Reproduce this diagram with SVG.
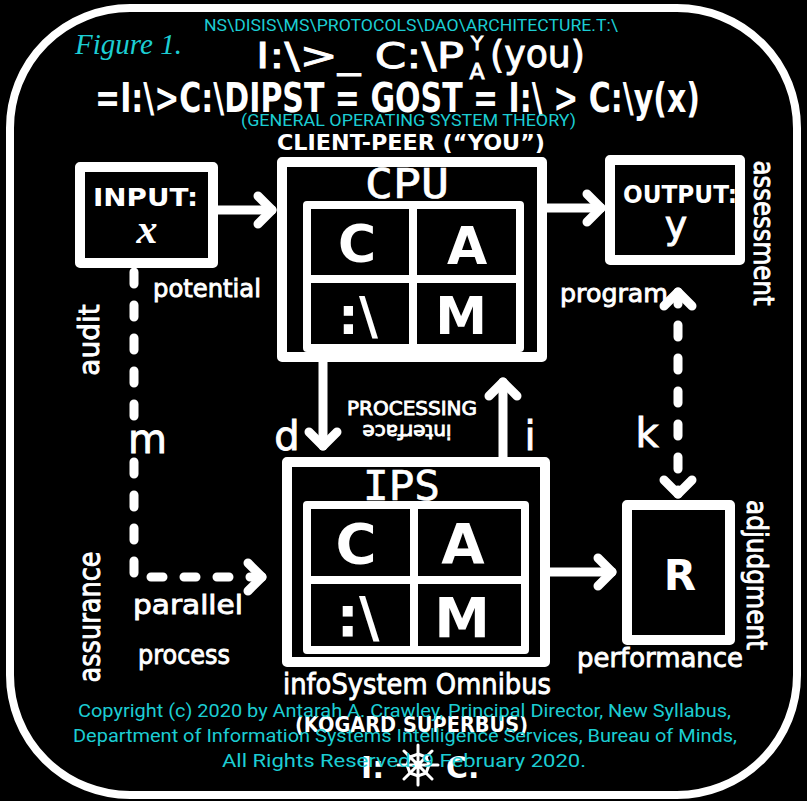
<svg xmlns="http://www.w3.org/2000/svg" width="807" height="801" viewBox="0 0 807 801">
<defs>
<style>
.ln{fill:none;stroke:#fff;stroke-width:9;stroke-linecap:round;stroke-linejoin:round}
.box{fill:#000;stroke:#fff;stroke-width:10;stroke-linejoin:round}
.grid{fill:none;stroke:#fff;stroke-width:8;stroke-linecap:round;stroke-linejoin:round}
.dash{fill:none;stroke:#fff;stroke-width:9;stroke-linecap:round;stroke-dasharray:12 21}
.hb{font-family:'DejaVu Sans',sans-serif;font-weight:bold;fill:#fff}
.hm{font-family:'DejaVu Sans Mono',monospace;fill:#fff;stroke:#fff;stroke-width:0.6}
.lb{font-family:'DejaVu Sans',sans-serif;fill:#fff;stroke:#fff;stroke-width:0.9}
.cy{font-family:Roboto,'Liberation Sans',sans-serif;fill:#1ccdd3}
</style>
<marker id="ah" markerUnits="userSpaceOnUse" viewBox="-20 -20 40 40" markerWidth="40" markerHeight="40" refX="0" refY="0" orient="auto-start-reverse" overflow="visible">
<path d="M-14,-14 L0,0 L-14,14" fill="none" stroke="#fff" stroke-width="9" stroke-linecap="round" stroke-linejoin="round"/>
</marker>
</defs>
<rect width="807" height="801" fill="#000"/>
<rect x="10" y="8" width="787" height="787" rx="120" fill="none" stroke="#fff" stroke-width="8"/>

<g id="heading">
<text class="lb" x="256" y="68" font-size="36" stroke-width="1.6" textLength="208" lengthAdjust="spacingAndGlyphs">I:\&gt;_ C:\P</text>
<text class="lb" x="477" y="50" font-size="20" text-anchor="middle">Y</text>
<text class="lb" x="477" y="79" font-size="22" text-anchor="middle">A</text>
<text class="lb" x="490" y="67" font-size="38" stroke-width="1.4" textLength="95" lengthAdjust="spacingAndGlyphs">(you)</text>
<text class="hb" x="95" y="112" font-size="40" textLength="605" lengthAdjust="spacingAndGlyphs">=I:\&gt;C:\DIPST = GOST = I:\ &gt; C:\y(x)</text>
<text class="hb" x="277" y="150" font-size="22" textLength="268" lengthAdjust="spacingAndGlyphs">CLIENT-PEER (“YOU”)</text>
</g>

<g id="connectors">
<line class="ln" x1="218" y1="210" x2="272" y2="210" marker-end="url(#ah)"/>
<line class="ln" x1="547" y1="208" x2="601" y2="208" marker-end="url(#ah)"/>
<line class="ln" x1="323" y1="362" x2="323" y2="446" marker-end="url(#ah)"/>
<line class="ln" x1="503" y1="457" x2="503" y2="382" marker-end="url(#ah)"/>
<line class="ln" x1="550" y1="572" x2="612" y2="572" marker-end="url(#ah)"/>
<path class="dash" d="M134,272 V418"/>
<path class="dash" d="M134,462 V577 H262" marker-end="url(#ah)"/>
<path class="dash" d="M678,292 V494" marker-start="url(#ah)" marker-end="url(#ah)"/>
</g>

<g id="input">
<rect class="box" x="80" y="167" width="133" height="96"/>
<text class="hb" x="93" y="206" font-size="24" textLength="105" lengthAdjust="spacingAndGlyphs">INPUT:</text>
<text x="147" y="243" font-size="42" text-anchor="middle" font-family="'Liberation Serif',serif" font-style="italic" font-weight="bold" fill="#fff">x</text>
</g>

<g id="cpu">
<rect class="box" x="282" y="162" width="260" height="195"/>
<text class="hm" x="365" y="198" font-size="40" textLength="84" lengthAdjust="spacingAndGlyphs">CPU</text>
<rect class="grid" x="307" y="205" width="213" height="143"/>
<line class="grid" x1="413" y1="205" x2="413" y2="348"/>
<line class="grid" x1="307" y1="279" x2="520" y2="279"/>
<text class="hb" x="357" y="262" font-size="52" text-anchor="middle">C</text>
<text class="hb" x="467" y="264" font-size="52" text-anchor="middle">A</text>
<text class="hb" x="358" y="334" font-size="52" text-anchor="middle">:\</text>
<text class="hb" x="461" y="334" font-size="52" text-anchor="middle">M</text>
</g>

<g id="output">
<rect class="box" x="610" y="160" width="130" height="100"/>
<text class="hb" x="623" y="203" font-size="24" textLength="114" lengthAdjust="spacingAndGlyphs">OUTPUT:</text>
<text class="lb" x="676" y="238" font-size="38" text-anchor="middle">y</text>
</g>

<g id="ips">
<rect class="box" x="287" y="462" width="258" height="200"/>
<text class="hm" x="363" y="500" font-size="40" textLength="77" lengthAdjust="spacingAndGlyphs">IPS</text>
<rect class="grid" x="307" y="505" width="218" height="145"/>
<line class="grid" x1="414" y1="505" x2="414" y2="650"/>
<line class="grid" x1="307" y1="580" x2="525" y2="580"/>
<text class="hb" x="356" y="563" font-size="56" text-anchor="middle">C</text>
<text class="hb" x="463" y="563" font-size="56" text-anchor="middle">A</text>
<text class="hb" x="358" y="636" font-size="56" text-anchor="middle">:\</text>
<text class="hb" x="462" y="637" font-size="56" text-anchor="middle">M</text>
</g>

<g id="r">
<rect class="box" x="627" y="505" width="103" height="135"/>
<text class="hb" x="680" y="590" font-size="42" text-anchor="middle">R</text>
</g>

<g id="labels">
<text class="lb" x="153" y="297" font-size="25" textLength="108" lengthAdjust="spacingAndGlyphs">potential</text>
<text class="lb" x="560" y="302" font-size="25" textLength="108" lengthAdjust="spacingAndGlyphs">program</text>
<text class="lb" x="287" y="450" font-size="40" text-anchor="middle">d</text>
<text class="lb" x="530" y="450" font-size="40" text-anchor="middle">i</text>
<text class="lb" x="128" y="453" font-size="40">m</text>
<text class="lb" x="647" y="447" font-size="40" text-anchor="middle">k</text>
<text class="lb" x="347" y="415" font-size="20" textLength="130" lengthAdjust="spacingAndGlyphs" stroke-width="0.5">PROCESSING</text>
<text class="lb" transform="translate(407,425) rotate(180)" text-anchor="middle" font-size="20" stroke-width="0.5">interface</text>
<text class="lb" x="133" y="614" font-size="27" textLength="110" lengthAdjust="spacingAndGlyphs">parallel</text>
<text class="lb" x="138" y="664" font-size="27" textLength="92" lengthAdjust="spacingAndGlyphs">process</text>
<text class="lb" x="577" y="667" font-size="27" textLength="166" lengthAdjust="spacingAndGlyphs">performance</text>
<text class="lb" transform="translate(99,340) rotate(-90)" text-anchor="middle" font-size="28">audit</text>
<text class="lb" transform="translate(100,617) rotate(-90)" text-anchor="middle" font-size="30" textLength="131" lengthAdjust="spacingAndGlyphs">assurance</text>
<text class="lb" transform="translate(754,233) rotate(90)" text-anchor="middle" font-size="28" textLength="145" lengthAdjust="spacingAndGlyphs">assessment</text>
<text class="lb" transform="translate(747,575) rotate(90)" text-anchor="middle" font-size="28" textLength="150" lengthAdjust="spacingAndGlyphs">adjudgment</text>
<text class="lb" x="283" y="694" font-size="29" textLength="268" lengthAdjust="spacingAndGlyphs">infoSystem Omnibus</text>
<text class="hb" x="295" y="732" font-size="22" textLength="233" lengthAdjust="spacingAndGlyphs">(KOGARD SUPERBUS)</text>
<text class="hb" x="361" y="778" font-size="30">I:</text>
<text class="hb" x="446" y="778" font-size="30">C.</text>
<g fill="none" stroke="#fff" stroke-width="3" stroke-linecap="round">
<path d="M418,745 V785 M398,765 H438 M404,751 L432,779 M432,751 L404,779"/>
<path d="M418,754 L426,757 L429,765 L426,773 L418,776 L410,773 L407,765 L410,757 Z"/>
</g>
</g>

<g id="captions">
<text class="cy" x="204" y="31" font-size="17" textLength="414" lengthAdjust="spacingAndGlyphs">NS\DISIS\MS\PROTOCOLS\DAO\ARCHITECTURE.T:\</text>
<text x="75" y="54" font-size="29" font-family="'Liberation Serif',serif" font-style="italic" fill="#1ccdd3" textLength="107" lengthAdjust="spacingAndGlyphs">Figure 1.</text>
<text class="cy" x="241" y="126" font-size="17" textLength="335" lengthAdjust="spacingAndGlyphs">(GENERAL OPERATING SYSTEM THEORY)</text>
<text class="cy" x="78" y="717" font-size="19" textLength="653" lengthAdjust="spacingAndGlyphs">Copyright (c) 2020 by Antarah A. Crawley, Principal Director, New Syllabus,</text>
<text class="cy" x="73" y="742" font-size="19" textLength="664" lengthAdjust="spacingAndGlyphs">Department of Information Systems Intelligence Services, Bureau of Minds,</text>
<text class="cy" x="222" y="767" font-size="19" textLength="364" lengthAdjust="spacingAndGlyphs">All Rights Reserved. 9 February 2020.</text>
</g>
</svg>
